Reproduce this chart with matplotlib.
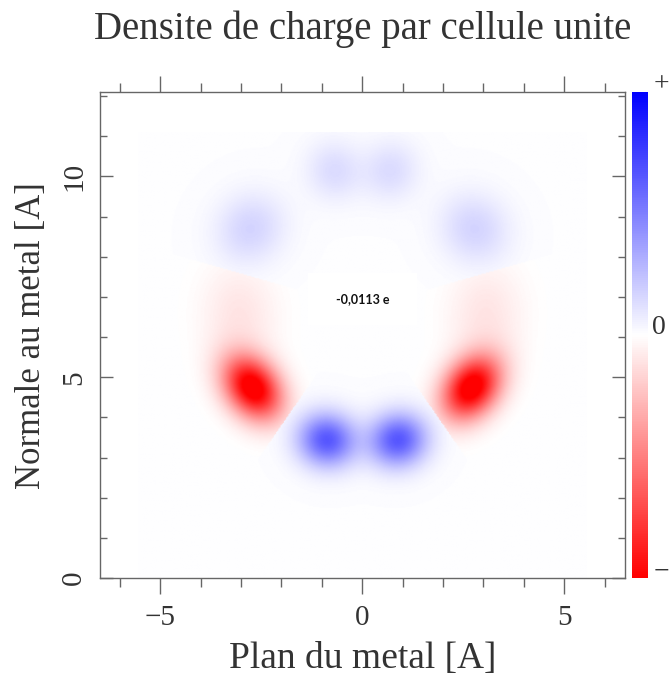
import numpy as np
import matplotlib
matplotlib.use("Agg")
import matplotlib.pyplot as plt
from matplotlib.colors import LinearSegmentedColormap
from matplotlib.patches import Rectangle
from matplotlib.ticker import MultipleLocator

# ---------------- data ----------------
title = "Densite de charge par cellule unite"
xlabel = "Plan du metal [A]"
ylabel = "Normale au metal [A]"
annotation = "-0,0113 e"
cbar_labels = ["+", "0", "\u2212"]

# charge-density map: lobes on a ring around the molecule centre
ring_center = (0.0, 6.72)
lobe_x = [-0.88, 0.88, -2.72, 2.70, -3.05, 3.05, -2.78, 2.78, -0.70, 0.70]
lobe_y = [3.43, 3.43, 4.73, 4.73, 6.55, 6.55, 8.70, 8.70, 10.15, 10.15]
lobe_q = [0.65, 0.65, -1.12, -1.12, -0.11, -0.11, 0.16, 0.16, 0.13, 0.13]
lobe_sig_t = [0.50, 0.50, 0.60, 0.60, 0.90, 0.90, 0.64, 0.64, 0.48, 0.48]
lobe_sig_r = [0.46, 0.46, 0.44, 0.44, 0.65, 0.65, 0.58, 0.58, 0.52, 0.52]
lobe_sector = ["bottom", "bottom", "left", "right", "left", "right",
               "upper", "upper", "upper", "upper"]
# angular partition (degrees, around the ring centre)
sector_bounds = {"bottom": (-124.5, -55.5), "right": (-55.5, 16.0),
                 "upper": (16.0, 164.0), "left": (164.0, 235.5)}
background = 0.007
map_extent = (-5.55, 5.55, 0.0, 11.1)

# ---------------- field ----------------
nx, ny = 400, 400
gx = np.linspace(map_extent[0], map_extent[1], nx)
gy = np.linspace(map_extent[2], map_extent[3], ny)
X, Y = np.meshgrid(gx, gy)
cx, cy = ring_center
ang = np.degrees(np.arctan2(Y - cy, X - cx))
ang = np.where(ang < -124.5, ang + 360.0, ang)

Z = np.full_like(X, background)
for x0, y0, q, st, sr, sec in zip(lobe_x, lobe_y, lobe_q, lobe_sig_t,
                                  lobe_sig_r, lobe_sector):
    a0, a1 = sector_bounds[sec]
    mask = (ang >= a0) & (ang < a1)
    rx, ry = x0 - cx, y0 - cy
    rn = np.hypot(rx, ry)
    ur = np.array([rx, ry]) / rn
    ut = np.array([-ur[1], ur[0]])
    dx, dy = X - x0, Y - y0
    dr = dx * ur[0] + dy * ur[1]
    dt = dx * ut[0] + dy * ut[1]
    g = q * np.exp(-0.5 * ((dr / sr) ** 2 + (dt / st) ** 2))
    Z = Z + np.where(mask, g, 0.0)

# ---------------- plot ----------------
cmap = LinearSegmentedColormap.from_list("rwb", [(1, 0, 0), (1, 1, 1), (0, 0, 1)])

plt.rcParams["font.family"] = ["Liberation Serif", "DejaVu Serif"]
txt_color = "#333333"
spine_color = "#666666"

fig = plt.figure(figsize=(6.69, 6.77), dpi=100)
ax = fig.add_axes([0.149, 0.146, 0.785, 0.718])
im = ax.imshow(Z, origin="lower", extent=map_extent, cmap=cmap, vmin=-1, vmax=1,
               interpolation="bilinear", aspect="auto", zorder=1)
ax.set_xlim(-6.5, 6.5)
ax.set_ylim(0, 12.1)

ax.add_patch(Rectangle((-1.34, 6.29), 2.70, 1.30, facecolor="white",
                       edgecolor="none", zorder=2))
ax.text(0.0, 6.94, annotation, ha="center", va="center", fontsize=9,
        fontweight="bold", family=["Lato", "DejaVu Sans"], color="#111111", zorder=3)

for s in ax.spines.values():
    s.set_color(spine_color)
    s.set_linewidth(1.0)

ax.xaxis.set_major_locator(MultipleLocator(5))
ax.xaxis.set_minor_locator(MultipleLocator(1))
ax.yaxis.set_major_locator(MultipleLocator(5))
ax.yaxis.set_minor_locator(MultipleLocator(1))
ax.tick_params(axis="x", which="both", direction="out", top=True, bottom=True,
               colors=spine_color, labelcolor=txt_color)
ax.tick_params(axis="x", which="major", length=11.5, width=1.0, pad=8,
               labelsize=21)
ax.tick_params(axis="x", which="minor", length=6.5, width=1.0)
ax.tick_params(axis="y", which="both", direction="in", left=True, right=True,
               colors=spine_color, labelcolor=txt_color)
ax.tick_params(axis="y", which="major", length=9.5, width=1.0, pad=9,
               labelsize=21)
ax.tick_params(axis="y", which="minor", length=5, width=1.0)
for lab in ax.get_yticklabels():
    lab.set_rotation(90)
    lab.set_va("center")

ax.set_xlabel(xlabel, fontsize=27, color=txt_color)
ax.xaxis.set_label_coords(0.5, -0.165)
ax.xaxis.label.set_va("center")
ax.set_ylabel(ylabel, fontsize=25, color=txt_color)
ax.yaxis.set_label_coords(-0.13, 0.5)
ax.yaxis.label.set_va("center")
ax.set_title(title, fontsize=28, color=txt_color, y=1.112, va="center")

cax = fig.add_axes([0.9447, 0.146, 0.0239, 0.718])
cb = fig.colorbar(im, cax=cax)
cb.outline.set_visible(False)
cb.set_ticks([])
fig.text(661.5 / 669, 1 - 85 / 677, cbar_labels[0], ha="center", va="center",
         fontsize=20, color=txt_color)
fig.text(659 / 669, 1 - 327 / 677, cbar_labels[1], ha="center", va="center",
         fontsize=20, color=txt_color)
fig.text(661.5 / 669, 1 - 572 / 677, cbar_labels[2], ha="center", va="center",
         fontsize=20, color=txt_color)

fig.savefig("out.png", dpi=100)
